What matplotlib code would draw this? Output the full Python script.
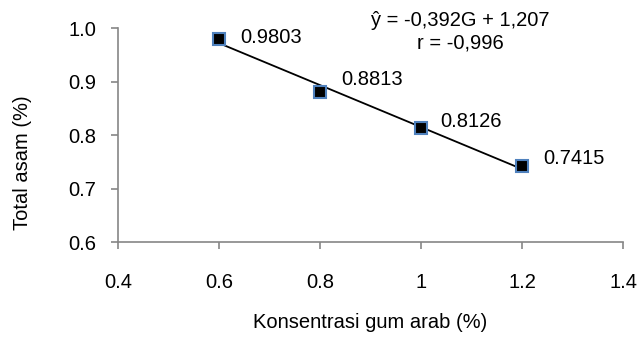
import numpy as np
import matplotlib
matplotlib.use("Agg")
import matplotlib.pyplot as plt

plt.rcParams['font.family'] = ['Liberation Sans', 'DejaVu Sans']

# data
konsentrasi = [0.6, 0.8, 1.0, 1.2]
total_asam = [0.9803, 0.8813, 0.8126, 0.7415]
labels = ['0.9803', '0.8813', '0.8126', '0.7415']
slope, intercept = -0.392, 1.207

# posisi label (offset dalam points)
offsets = [(15, 1), (15, 9), (14, 5), (15, 6)]

fs = 14.5
fig = plt.figure(figsize=(6.39, 3.43), dpi=100)
ax = fig.add_axes([0.185, 0.294, 0.790, 0.624])

# garis regresi
xl = np.array([konsentrasi[0], konsentrasi[-1]])
ax.plot(xl, slope * xl + intercept, color='black', lw=1.3, zorder=2)
ax.plot(konsentrasi, total_asam, 's', ms=9, mfc='black', mec='#4F81BD',
        mew=1.5, ls='none', zorder=3)

for (x, y, t), off in zip(zip(konsentrasi, total_asam, labels), offsets):
    ax.annotate(t, (x, y), xytext=off, textcoords='offset points',
                fontsize=fs, va='center', ha='left')

ax.text(1.077, 1.015, 'ŷ = -0,392G + 1,207', fontsize=fs, ha='center', va='center')
ax.text(1.077, 0.972, 'r = -0,996', fontsize=fs, ha='center', va='center')

ax.set_xlim(0.4, 1.4)
ax.set_ylim(0.6, 1.0)
ax.set_xticks([0.4, 0.6, 0.8, 1.0, 1.2, 1.4])
ax.set_xticklabels(['0.4', '0.6', '0.8', '1', '1.2', '1.4'])
ax.set_yticks([0.6, 0.7, 0.8, 0.9, 1.0])
ax.set_yticklabels(['0.6', '0.7', '0.8', '0.9', '1.0'])

for s in ['top', 'right']:
    ax.spines[s].set_visible(False)
for s in ['left', 'bottom']:
    ax.spines[s].set_color('#868686')
    ax.spines[s].set_linewidth(1.2)
ax.tick_params(direction='out', length=5, color='#868686', width=1.2,
               labelsize=fs)
ax.tick_params(axis='x', pad=17)
ax.tick_params(axis='y', pad=11)

ax.set_xlabel('Konsentrasi gum arab (%)', fontsize=fs)
ax.xaxis.set_label_coords(0.5, -0.33)
ax.set_ylabel('Total asam (%)', fontsize=fs)
ax.yaxis.set_label_coords(-0.17, 0.37)

fig.savefig('out.png', dpi=100)
